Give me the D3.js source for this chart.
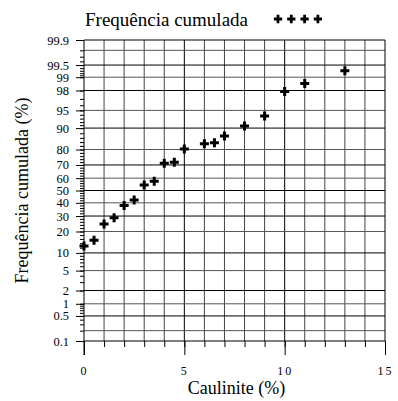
<!DOCTYPE html>
<html>
<head>
<meta charset="utf-8">
<script src="https://cdn.jsdelivr.net/npm/d3@7"></script>
<style>
    body { margin: 0; background: #fff; }
</style>
</head>
<body>
<svg id="chart" width="398" height="401"></svg>
<script>
    // caulinite content (%) and cumulative frequency (%)
    const caulinite = [0, 0.5, 1, 1.5, 2, 2.5, 3, 3.5, 4, 4.5, 5, 6, 6.5, 7, 8, 9, 10, 11, 13];
    const freq = [12.7, 15.3, 24.6, 28.8, 38, 42.3, 54.5, 57.5, 71.2, 71.9, 80.3, 83.2, 83.6, 86.8, 90.7, 93.7, 97.9, 98.6, 99.3];

    const yTickLabels = [0.1, 0.5, 1, 2, 5, 10, 20, 30, 40, 50, 60, 70, 80, 90, 95, 98, 99, 99.5, 99.9];
    const yGridValues = [0.2, 0.5, 1, 2, 5, 10, 20, 30, 40, 50, 60, 70, 80, 90, 95, 98, 99, 99.5, 99.8];
    const xTickLabels = [0, 5, 10, 15];

    const serif = "'Liberation Serif', 'Times New Roman', serif";
    const margin = { top: 40, right: 13, bottom: 60, left: 84 };
    const width = 398 - margin.left - margin.right;
    const height = 401 - margin.top - margin.bottom;

    // inverse normal cdf (Acklam)
    function probit(p) {
        const a = [-39.69683028665376, 220.9460984245205, -275.9285104469687, 138.3577518672690, -30.66479806614716, 2.506628277459239];
        const b = [-54.47609879822406, 161.5858368580409, -155.6989798598866, 66.80131188771972, -13.28068155288572];
        const c = [-0.007784894002430293, -0.3223964580411365, -2.400758277161838, -2.549732539343734, 4.374664141464968, 2.938163982698783];
        const d = [0.007784695709041462, 0.3224671290700398, 2.445134137142996, 3.754408661907416];
        const pl = 0.02425;
        let q, r;
        if (p < pl) {
            q = Math.sqrt(-2 * Math.log(p));
            return (((((c[0] * q + c[1]) * q + c[2]) * q + c[3]) * q + c[4]) * q + c[5]) /
                ((((d[0] * q + d[1]) * q + d[2]) * q + d[3]) * q + 1);
        }
        if (p > 1 - pl) {
            q = Math.sqrt(-2 * Math.log(1 - p));
            return -(((((c[0] * q + c[1]) * q + c[2]) * q + c[3]) * q + c[4]) * q + c[5]) /
                ((((d[0] * q + d[1]) * q + d[2]) * q + d[3]) * q + 1);
        }
        q = p - 0.5;
        r = q * q;
        return (((((a[0] * r + a[1]) * r + a[2]) * r + a[3]) * r + a[4]) * r + a[5]) * q /
            (((((b[0] * r + b[1]) * r + b[2]) * r + b[3]) * r + b[4]) * r + 1);
    }
    const z = (pct) => probit(pct / 100);

    // minor ticks on the probability axis
    const minorTicks = [];
    for (let v = 0.1; v < 1; v += 0.1) minorTicks.push(+v.toFixed(1));
    for (let v = 1; v <= 10; v++) minorTicks.push(v);
    for (let v = 12; v < 90; v += 2) minorTicks.push(v);
    for (let v = 90; v <= 99; v++) minorTicks.push(v);
    for (let v = 99.1; v < 99.95; v += 0.1) minorTicks.push(+v.toFixed(1));

    const svg = d3.select('#chart');
    const chart = svg.append('g')
        .attr('transform', `translate(${margin.left}, ${margin.top})`);

    const xScale = d3.scaleLinear().domain([0, 15]).range([0, width]);
    const yScale = d3.scaleLinear().domain([z(0.1), z(99.9)]).range([height, 0]);

    // vertical grid
    chart.append('g')
        .selectAll('line')
        .data(d3.range(1, 15))
        .join('line')
            .attr('x1', d => xScale(d))
            .attr('x2', d => xScale(d))
            .attr('y1', 0)
            .attr('y2', height)
            .attr('stroke', d => d % 5 === 0 ? '#000' : '#444')
            .attr('stroke-width', 1);

    // horizontal grid
    chart.append('g')
        .selectAll('line')
        .data(yGridValues)
        .join('line')
            .attr('x1', 0)
            .attr('x2', width)
            .attr('y1', d => yScale(z(d)))
            .attr('y2', d => yScale(z(d)))
            .attr('stroke', (d, i) => i % 2 ? '#000' : '#555')
            .attr('stroke-width', 1);

    // frame top / bottom / right
    chart.append('line')
        .attr('x1', 0).attr('x2', width).attr('y1', 0).attr('y2', 0)
        .attr('stroke', '#000');
    chart.append('line')
        .attr('x1', 0).attr('x2', width).attr('y1', height).attr('y2', height)
        .attr('stroke', '#000');
    chart.append('line')
        .attr('x1', width).attr('x2', width).attr('y1', 0).attr('y2', height)
        .attr('stroke', '#000');

    // x axis ticks below the plot
    const xMinor = d3.axisBottom(xScale)
        .tickValues(d3.range(0, 16))
        .tickSize(6)
        .tickFormat('');
    chart.append('g')
        .attr('transform', `translate(0, ${height})`)
        .call(xMinor)
        .call(g => g.select('.domain').remove());

    const xAxis = d3.axisBottom(xScale)
        .tickValues(xTickLabels)
        .tickSize(14)
        .tickPadding(11)
        .tickFormat(d3.format('d'));
    chart.append('g')
        .attr('transform', `translate(0, ${height})`)
        .call(xAxis)
        .call(g => g.select('.domain').remove())
        .call(g => g.selectAll('.tick text')
            .style('font-family', serif)
            .style('letter-spacing', '2px')
            .attr('font-size', 12)
            .attr('fill', '#000'));

    // y axis
    const yMinor = d3.axisLeft(yScale)
        .tickValues(minorTicks.map(z))
        .tickSize(4)
        .tickFormat('');
    chart.append('g')
        .call(yMinor)
        .call(g => g.select('.domain').remove());

    const yAxis = d3.axisLeft(yScale)
        .tickValues(yTickLabels.map(z))
        .tickSize(8)
        .tickPadding(7)
        .tickFormat((d, i) => yTickLabels[i]);
    chart.append('g')
        .call(yAxis)
        .call(g => g.select('.domain').remove())
        .call(g => g.selectAll('.tick text')
            .style('font-family', serif)
            .attr('font-size', 12.5)
            .attr('fill', '#000'));

    // left axis line, running past the bottom
    chart.append('line')
        .attr('x1', 0).attr('x2', 0).attr('y1', 0).attr('y2', height + 14)
        .attr('stroke', '#000');

    // data
    const cross = d3.symbol().type(d3.symbolCross).size(45);
    chart.append('g')
        .selectAll('path')
        .data(caulinite.map((c, i) => ({ c: c, f: freq[i] })))
        .join('path')
            .attr('d', cross)
            .attr('transform', d => `translate(${xScale(d.c)}, ${yScale(z(d.f))})`)
            .attr('fill', '#000');

    // axis titles
    svg.append('text')
        .attr('x', margin.left + width / 2 + 2)
        .attr('y', 394)
        .attr('text-anchor', 'middle')
        .attr('font-size', 18)
        .style('font-family', serif)
        .text('Caulinite (%)');

    svg.append('text')
        .attr('transform', `translate(28, ${margin.top + height / 2}) rotate(-90)`)
        .attr('text-anchor', 'middle')
        .attr('font-size', 18)
        .style('font-family', serif)
        .text('Frequência cumulada (%)');

    // legend
    svg.append('text')
        .attr('x', 85)
        .attr('y', 26)
        .attr('font-size', 19)
        .style('font-family', serif)
        .text('Frequência cumulada');

    svg.append('g')
        .selectAll('path')
        .data(d3.range(4))
        .join('path')
            .attr('d', d3.symbol().type(d3.symbolCross).size(38))
            .attr('transform', i => `translate(${278 + i * 13.3}, 19)`)
            .attr('fill', '#000');
</script>
</body>
</html>
